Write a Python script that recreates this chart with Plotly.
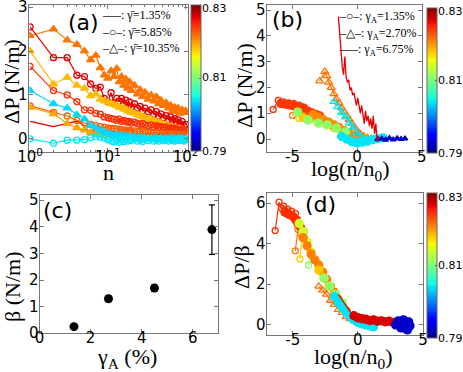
import plotly.graph_objects as go
from plotly.colors import sample_colorscale

# matplotlib-like jet colour map
JET = [[0.0, "rgb(0,0,128)"], [0.11, "rgb(0,0,255)"], [0.125, "rgb(0,0,255)"],
       [0.34, "rgb(0,219,255)"], [0.35, "rgb(0,229,247)"], [0.375, "rgb(20,255,226)"],
       [0.64, "rgb(238,255,8)"], [0.66, "rgb(255,236,0)"], [0.89, "rgb(255,19,0)"],
       [0.91, "rgb(232,0,0)"], [1.0, "rgb(128,0,0)"]]
PHI_MIN, PHI_MAX = 0.79, 0.83
cbar_ticks = [0.79, 0.81, 0.83]

# ---------------- panel (a): dP vs n ----------------
n_a = [1, 2, 3, 4, 5, 6, 7, 8, 9, 10, 11, 12, 13, 14, 15, 16, 17, 18, 19, 20,
       22, 24, 26, 28, 30, 33, 36, 39, 42, 45, 48, 52, 56, 60, 64, 68, 72, 76, 80,
       85, 90, 95, 100]
a_red_line = [0.40, 0.28, 0.35, 0.40, 0.30, 0.10, 0.22, 0.16, 0.20, 0.15, 0.18, 0.12, 0.16, 0.10, 0.14, 0.12, 0.15, 0.10, 0.13, 0.11,
              0.14, 0.10, 0.12, 0.09, 0.12, 0.10, 0.12, 0.08, 0.11, 0.09, 0.11, 0.08, 0.10, 0.07, 0.10, 0.08, 0.09, 0.07, 0.09,
              0.07, 0.08, 0.06, 0.08]
a_orange_tri = [2.35, 2.50, 2.25, 2.15, 2.00, 1.80, 1.90, 1.62, 1.45, 1.38, 1.55, 1.42, 1.60, 1.30, 1.42, 1.22, 1.36, 1.15, 1.30, 1.10,
                1.22, 1.02, 1.12, 0.96, 1.06, 0.90, 1.00, 0.86, 0.96, 0.80, 0.88, 0.76, 0.82, 0.70, 0.76, 0.64, 0.72, 0.62, 0.70,
                0.58, 0.66, 0.60, 0.64]
a_red_circ = [2.55, 1.85, 1.85, 1.45, 1.42, 1.25, 1.15, 1.18, 0.92, 0.85, 1.05, 0.82, 0.92, 0.86, 0.92, 0.80, 0.88, 0.74, 0.84, 0.72,
              0.80, 0.70, 0.74, 0.64, 0.70, 0.62, 0.66, 0.56, 0.62, 0.52, 0.57, 0.48, 0.53, 0.44, 0.50, 0.42, 0.46, 0.38, 0.43,
              0.34, 0.40, 0.30, 0.33]
a_yellow_tri = [2.00, 1.25, 1.40, 1.22, 1.15, 0.98, 1.02, 0.90, 0.86, 0.84, 0.80, 0.78, 0.76, 0.72, 0.71, 0.68, 0.67, 0.64, 0.63, 0.60,
                0.58, 0.55, 0.53, 0.50, 0.49, 0.46, 0.44, 0.41, 0.40, 0.37, 0.36, 0.33, 0.32, 0.29, 0.28, 0.26, 0.25, 0.23, 0.23,
                0.21, 0.21, 0.19, 0.19]
a_redorange_circ = [1.65, 1.10, 1.00, 0.85, 0.66, 0.65, 0.58, 0.56, 0.50, 0.48, 0.46, 0.45, 0.42, 0.45, 0.40, 0.42, 0.40, 0.38, 0.40, 0.36,
                    0.38, 0.35, 0.33, 0.35, 0.32, 0.30, 0.32, 0.28, 0.30, 0.27, 0.28, 0.25, 0.27, 0.24, 0.25, 0.22, 0.24, 0.20, 0.22,
                    0.20, 0.21, 0.18, 0.20]
a_orange_circ = [0.75, 0.60, 0.52, 0.42, 0.36, 0.33, 0.30, 0.28, 0.26, 0.25, 0.24, 0.23, 0.22, 0.22, 0.21, 0.20, 0.20, 0.19, 0.19, 0.18,
                 0.18, 0.17, 0.17, 0.16, 0.16, 0.15, 0.15, 0.14, 0.14, 0.13, 0.13, 0.12, 0.12, 0.12, 0.11, 0.11, 0.11, 0.10, 0.10,
                 0.10, 0.10, 0.09, 0.09]
a_ylworange_tri = [0.72, 0.57, 0.35, 0.25, 0.20, 0.15, 0.12, 0.10, 0.09, 0.08, 0.07, 0.06, 0.06, 0.05, 0.05, 0.04, 0.04, 0.03, 0.03, 0.03,
                   0.02, 0.02, 0.02, 0.01, 0.01, 0.01, 0.00, 0.00, 0.00, -0.01, -0.01, -0.01, -0.02, -0.02, -0.02, -0.02, -0.03, -0.03, -0.03,
                   -0.03, -0.04, -0.04, -0.04]
a_cyan_tri = [1.10, 0.80, 0.70, 0.55, 0.45, 0.30, 0.25, 0.20, 0.15, 0.12, 0.10, 0.08, 0.10, 0.05, 0.08, 0.05, 0.07, 0.03, 0.06, 0.02,
              0.05, 0.00, 0.04, 0.00, 0.03, -0.02, 0.02, -0.01, 0.03, -0.02, 0.02, -0.03, 0.01, -0.02, 0.02, -0.03, 0.01, -0.02, 0.02,
              -0.01, 0.02, -0.02, 0.00]
a_cyan_circ = [0.00, -0.10, -0.03, -0.03, -0.02, 0.03, 0.05, 0.04, 0.02, -0.02, -0.05, -0.07, -0.04, -0.08, -0.03, -0.06, -0.02, -0.05, -0.01, -0.04,
               0.00, -0.05, -0.02, -0.06, -0.01, -0.04, 0.00, -0.05, -0.02, -0.05, 0.00, -0.04, -0.01, -0.05, 0.00, -0.03, -0.05, -0.01, -0.04,
               0.00, -0.03, -0.05, -0.02]

# (y values, phi, style)
series_a = [
    (a_red_line, 0.8265, "line"),
    (a_orange_tri, 0.8215, "tri"),
    (a_red_circ, 0.8265, "circ"),
    (a_yellow_tri, 0.8185, "tri"),
    (a_redorange_circ, 0.8245, "circ"),
    (a_orange_circ, 0.8225, "circ"),
    (a_ylworange_tri, 0.8195, "tri"),
    (a_cyan_tri, 0.8035, "tri"),
    (a_cyan_circ, 0.804, "circ"),
]
legend_a = ["–––: γ\u0304=1.35%", "–○–: γ\u0304=5.85%", "–△–: γ\u0304=10.35%"]

# ---------------- panel (b): dP vs log(n/n0) ----------------
b_series = [
    # x, y, phi, style
    ([-6.5, -6.1, -5.9, -5.7, -5.5, -5.3, -5.1, -4.9, -4.7, -4.5, -4.3, -4.1],
     [1.15, 1.50, 1.40, 1.44, 1.36, 1.40, 1.34, 1.37, 1.30, 1.32, 1.26, 1.24], 0.8245, "circ"),
    ([-5.0, -4.7, -4.4], [0.92, 1.25, 1.22], 0.8215, "circ"),
    ([-4.5, -4.2, -3.9], [0.80, 1.05, 0.98], 0.818, "circ"),
    ([-5.9, -5.6, -5.3, -5.0, -4.7, -4.4, -4.1, -3.8, -3.5, -3.2, -2.9],
     [1.38, 1.36, 1.33, 1.30, 1.25, 1.20, 1.14, 1.08, 1.02, 0.96, 0.90], 0.824, "dot"),
    ([-4.2, -3.6, -3.0, -2.4, -1.8, -1.2, -0.6, 0.0],
     [0.85, 0.80, 0.70, 0.58, 0.45, 0.33, 0.18, 0.05], 0.818, "dot"),
    ([-3.4, -3.0, -2.6, -2.2, -1.8, -1.4, -1.0, -0.6, -0.2, 0.2],
     [0.95, 0.85, 0.75, 0.66, 0.55, 0.45, 0.33, 0.22, 0.10, 0.00], 0.8205, "dot"),
    ([-4.6, -3.8, -3.0, -2.3, -1.6, -0.9],
     [1.05, 0.74, 0.62, 0.55, 0.42, 0.28], 0.811, "dot"),
    ([-2.9, -2.5, -2.35, -2.2, -2.0, -1.8, -1.6, -1.4, -1.2, -1.0, -0.8, -0.6, -0.4, -0.2, 0.0, 0.2, 0.5, 0.8, 1.1, 1.4],
     [2.25, 2.62, 2.45, 2.20, 2.00, 1.75, 1.55, 1.40, 1.20, 1.05, 0.90, 0.75, 0.60, 0.45, 0.32, 0.22, 0.12, 0.05, 0.02, 0.00], 0.8215, "trio"),
    ([-1.2, -0.8, -0.4, 0.0, 0.4, 0.8, 1.2, 1.6, 2.0],
     [0.10, 0.00, -0.10, -0.15, -0.12, -0.08, -0.02, 0.02, 0.05], 0.804, "dot"),
    ([-1.8, -1.5, -1.2, -0.9, -0.6, -0.3, 0.0, 0.3, 0.6, 0.9],
     [1.45, 1.25, 1.02, 0.85, 0.62, 0.45, 0.25, 0.10, 0.00, -0.05], 0.804, "trio"),
    ([1.6, 1.9, 2.2, 2.5, 2.8, 3.1, 3.4, 3.7],
     [0.00, 0.02, -0.03, 0.04, -0.02, 0.03, 0.00, 0.02], 0.7925, "small"),
    ([-1.45, -1.35, -1.25, -1.15, -1.05, -0.95, -0.85, -0.75, -0.65, -0.55, -0.45, -0.35, -0.25, -0.15, -0.05, 0.05,
      0.15, 0.25, 0.35, 0.45, 0.55, 0.65, 0.75, 0.85, 0.95, 1.05, 1.15, 1.25, 1.35, 1.45, 1.55, 1.65],
     [4.75, 4.00, 3.30, 2.80, 2.50, 3.20, 2.40, 2.20, 2.30, 1.90, 2.00, 1.70, 1.80, 1.50, 1.30, 1.60,
      1.20, 1.00, 1.30, 0.90, 0.60, 1.10, 0.70, 0.90, 0.50, 0.80, 0.40, 0.90, 0.20, 0.60, -0.10, 0.10], 0.8265, "line"),
]
legend_b = ["–○–: γ<sub>A</sub>=1.35%", "–△–: γ<sub>A</sub>=2.70%", "–––: γ<sub>A</sub>=6.75%"]

# ---------------- panel (c): beta vs gamma_A ----------------
gamma_A = [1.35, 2.70, 4.50, 6.75]
beta = [0.25, 1.30, 1.70, 3.90]
beta_err = [0.05, 0.10, 0.12, 0.93]

# ---------------- panel (d): dP/beta vs log(n/n0) ----------------
d_series = [
    ([-6.35, -6.05, -5.85, -5.7, -5.55, -5.4, -5.25, -5.1, -4.95, -4.8, -4.65, -4.5],
     [4.65, 6.05, 5.75, 5.85, 5.60, 5.70, 5.45, 5.60, 5.35, 5.50, 5.20, 5.00], 0.8245, "circ"),
    ([-5.6, -5.3, -5.0, -4.8, -4.6, -4.4, -4.2],
     [5.55, 5.45, 5.35, 5.20, 5.00, 4.80, 4.60], 0.8245, "dot"),
    ([-4.8, -4.6, -4.4], [3.65, 4.70, 4.50], 0.8215, "circ"),
    ([-4.45, -4.3], [3.25, 4.30], 0.818, "circ"),
    ([-3.8, -3.6], [2.95, 3.40], 0.811, "circ"),
    ([-4.5, -4.2, -3.9, -3.6], [5.00, 4.60, 4.10, 3.60], 0.814, "dot"),
    ([-4.2, -3.9, -3.6, -3.3, -3.0, -2.7, -2.4, -2.1, -1.8, -1.5, -1.2, -0.9],
     [4.30, 3.90, 3.50, 3.20, 2.95, 2.60, 2.25, 1.90, 1.60, 1.25, 0.95, 0.70], 0.821, "dot"),
    ([-3.0, -2.6, -2.2, -1.8, -1.4], [2.70, 2.30, 1.90, 1.50, 1.10], 0.818, "dot"),
    ([-2.6, -2.15, -1.7, -1.2], [2.30, 1.90, 1.50, 1.10], 0.811, "dot"),
    ([-3.0, -2.7, -2.4, -2.1, -1.8, -1.5, -1.2, -0.9, -0.6, -0.3, 0.0, 0.3],
     [1.90, 1.70, 1.50, 1.20, 1.00, 0.75, 0.60, 0.40, 0.30, 0.20, 0.10, 0.05], 0.8215, "trio"),
    ([-1.8, -1.5, -1.2, -0.9, -0.6, -0.3, 0.0, 0.3, 0.6, 0.9, 1.2],
     [1.40, 1.10, 0.85, 0.60, 0.40, 0.25, 0.12, 0.05, 0.00, -0.05, -0.10], 0.804, "dot"),
    ([-0.3, 0.0, 0.3, 0.6, 0.9, 1.2, 1.5, 1.8, 2.1, 2.4, 2.7, 3.0],
     [0.45, 0.35, 0.30, 0.28, 0.22, 0.25, 0.18, 0.20, 0.15, 0.18, 0.12, 0.10], 0.827, "dot"),
    ([-1.5, -1.2, -0.9, -0.6, -0.3, 0.0, 0.3, 0.6, 0.9, 1.2, 1.5, 1.8, 2.1, 2.4, 2.7, 3.0],
     [1.50, 1.20, 0.90, 0.65, 0.50, 0.35, 0.30, 0.25, 0.22, 0.20, 0.18, 0.15, 0.12, 0.10, 0.08, 0.05], 0.8265, "line"),
    ([2.9, 3.1, 3.3, 3.5, 3.7, 3.9, 4.0, 3.2, 3.6, 3.8],
     [0.00, 0.20, -0.15, 0.25, -0.20, 0.15, -0.05, 0.10, 0.05, -0.25], 0.7925, "dot"),
]

# y tick values per panel
yticks_a = [0, 1, 2, 3]
yticks_b = [0, 1, 2, 3, 4, 5]
yticks_c = [0, 1, 2, 3, 4, 5]
yticks_d = [0, 2, 4, 6]

W, H = 463, 372


def px(x):
    return x / W


def py(y):
    return 1 - y / H


def col(phi):
    return sample_colorscale(JET, [(phi - PHI_MIN) / (PHI_MAX - PHI_MIN)])[0]


def add_series(fig, x, y, phi, style, xa, ya, ca):
    c = col(phi)
    if style == "line":
        fig.add_trace(go.Scatter(x=x, y=y, mode="lines", line=dict(color=c, width=1.3),
                                 xaxis=xa, yaxis=ya, showlegend=False))
        return
    sym = {"circ": "circle-open", "tri": "triangle-up", "trio": "triangle-up-open",
           "dot": "circle", "small": "triangle-up"}[style]
    size = {"circ": 6, "tri": 7, "trio": 7, "dot": 8, "small": 5}[style]
    mode = "markers" if style == "dot" else "lines+markers"
    fig.add_trace(go.Scatter(
        x=x, y=y, mode=mode, line=dict(color=c, width=1.2),
        marker=dict(symbol=sym, size=size, color=[phi] * len(x), coloraxis=ca,
                    line=dict(width=1.3)),
        xaxis=xa, yaxis=ya, showlegend=False))


fig = go.Figure()

for y_vals, phi, style in series_a:
    add_series(fig, n_a, y_vals, phi, style, "x", "y", "coloraxis")

for x_vals, y_vals, phi, style in b_series:
    add_series(fig, x_vals, y_vals, phi, style, "x2", "y2", "coloraxis2")

fig.add_trace(go.Scatter(
    x=gamma_A, y=beta, mode="markers",
    marker=dict(color="black", size=9),
    error_y=dict(type="data", array=beta_err, color="black", thickness=1.2, width=3),
    xaxis="x3", yaxis="y3", showlegend=False))

for x_vals, y_vals, phi, style in d_series:
    add_series(fig, x_vals, y_vals, phi, style, "x4", "y4", "coloraxis3")

frame = dict(showgrid=False, zeroline=False, showline=True, linecolor="#777", linewidth=1,
             mirror="ticks", ticks="inside", ticklen=4, tickcolor="#777", automargin=False,
             tickfont=dict(family="DejaVu Sans", size=15, color="black"))
xframe = dict(frame, ticklabelstandoff=-9)
yframe = dict(frame, showticklabels=False)


def cbar(x0, y0, y1):
    return dict(colorscale=JET, cmin=PHI_MIN, cmax=PHI_MAX,
                colorbar=dict(thickness=10, thicknessmode="pixels", len=(y1 - y0) / H, lenmode="fraction",
                              x=px(x0), xanchor="left", y=py((y0 + y1) / 2), yanchor="middle",
                              xpad=0, ypad=0, outlinewidth=1, outlinecolor="#666",
                              tickvals=cbar_ticks, ticks="inside", ticklen=2, tickcolor="#666",
                              showticklabels=False))


cbars = [(191, 5, 151), (427, 8, 153), (427, 193, 338)]

fig.update_layout(
    width=W, height=H, margin=dict(l=0, r=0, t=0, b=0, pad=0, autoexpand=False),
    paper_bgcolor="white", plot_bgcolor="white",
    xaxis=dict(xframe, type="log", domain=[px(29.3), px(188)], range=[-0.01, 2.03], anchor="y",
               tickvals=[1, 10, 100], ticktext=["10<sup>0</sup>", "10<sup>1</sup>", "10<sup>2</sup>"],
               minor=dict(ticks="inside", ticklen=2, tickcolor="#777",
                          tickvals=[2, 3, 4, 5, 6, 7, 8, 9, 20, 30, 40, 50, 60, 70, 80, 90])),
    yaxis=dict(yframe, domain=[py(152), py(5)], range=[-0.3, 3.05], anchor="x", tickvals=yticks_a),
    xaxis2=dict(xframe, domain=[px(266.7), px(421.7)], range=[-7, 5], anchor="y2",
                tickvals=[-5, 0, 5], ticktext=["-5", "0", "5"]),
    yaxis2=dict(yframe, domain=[py(152), py(5)], range=[-0.5, 5.2], anchor="x2", tickvals=yticks_b),
    xaxis3=dict(xframe, domain=[px(39.5), px(218.3)], range=[0, 7], anchor="y3", tickvals=[0, 2, 4, 6]),
    yaxis3=dict(yframe, domain=[py(333.3), py(195)], range=[0, 5.2], anchor="x3", tickvals=yticks_c),
    xaxis4=dict(xframe, domain=[px(266.7), px(423)], range=[-7, 5], anchor="y4",
                tickvals=[-5, 0, 5], ticktext=["-5", "0", "5"]),
    yaxis4=dict(yframe, domain=[py(335), py(193)], range=[-0.5, 6.5], anchor="x4", tickvals=yticks_d),
    coloraxis=cbar(*cbars[0]),
    coloraxis2=cbar(*cbars[1]),
    coloraxis3=cbar(*cbars[2]),
)

serif = "Liberation Serif"
ann = []


def text(x, y, s, size, family=serif, angle=0, xanchor="center"):
    ann.append(dict(x=px(x), y=py(y), xref="paper", yref="paper", text=s, showarrow=False,
                    textangle=angle, xanchor=xanchor, yanchor="middle",
                    font=dict(family=family, size=size, color="black")))


# y tick labels, placed through each axis' own scale, hugging the frame
for xd, ya, vals in [("x domain", "y", yticks_a), ("x2 domain", "y2", yticks_b),
                     ("x3 domain", "y3", yticks_c), ("x4 domain", "y4", yticks_d)]:
    for v in vals:
        ann.append(dict(x=0, y=v, xref=xd, yref=ya, text=str(v), showarrow=False,
                        xanchor="right", yanchor="middle", xshift=1,
                        font=dict(family="DejaVu Sans", size=15, color="black")))

# colorbar tick labels next to the bars (top one nudged down a little, as in the original)
for x0, y0, y1 in cbars:
    for v in cbar_ticks:
        yy = y1 - (v - PHI_MIN) / (PHI_MAX - PHI_MIN) * (y1 - y0)
        if v == PHI_MAX:
            yy += 4
        ann.append(dict(x=px(x0 + 10), y=py(yy), xref="paper", yref="paper", text="%.2f" % v,
                        showarrow=False, xanchor="left", yanchor="middle", xshift=-1,
                        font=dict(family="DejaVu Sans", size=11, color="black")))

# axis titles
text(11, 82, "ΔP (N/m)", 22, angle=-90)
text(108, 172, "n", 22)
text(244, 86, "ΔP (N/m)", 22, angle=-90)
text(350, 170, "log(n/n<sub>0</sub>)", 22)
text(12, 287, "β (N/m)", 22, angle=-90)
text(127, 358, "γ<sub>A</sub> (%)", 22)
text(241, 267, "ΔP/β", 22, angle=-90)
text(353, 358, "log(n/n<sub>0</sub>)", 22)

# panel labels
text(83, 23, "(a)", 22, family="DejaVu Sans")
text(287, 20, "(b)", 22, family="DejaVu Sans")
text(58, 210, "(c)", 22, family="DejaVu Sans")
text(320, 205, "(d)", 22, family="DejaVu Sans")

# legend texts
for i, s in enumerate(legend_a):
    text(100, 15 + 16.5 * i, s, 12, xanchor="left")
for i, s in enumerate(legend_b):
    text(337, 17 + 16.5 * i, s, 12, xanchor="left")

fig.update_layout(annotations=ann)
# drop the browser's default page margin so the figure sits at the window's corner
fig.write_html("out.html", config={"displayModeBar": False},
               post_script="document.body.style.margin='0px';")
